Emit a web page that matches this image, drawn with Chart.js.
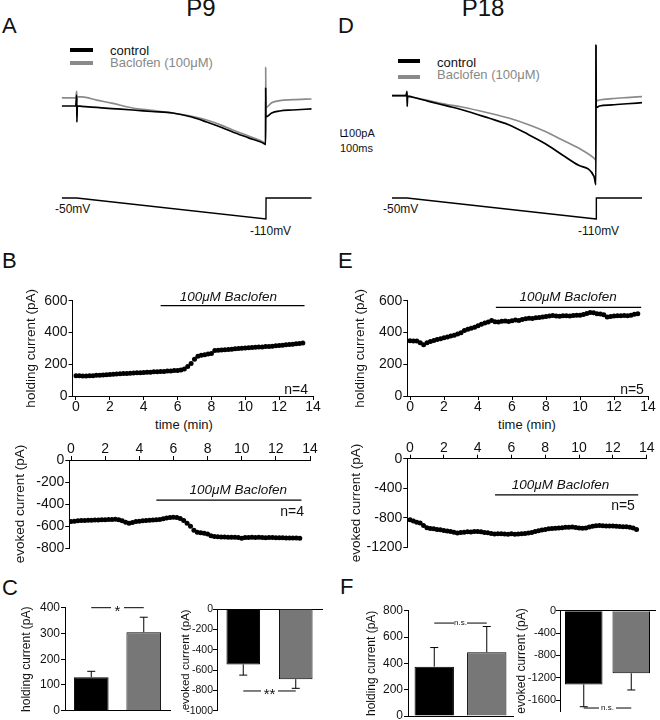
<!DOCTYPE html>
<html>
<head>
<meta charset="utf-8">
<title>Baclofen P9 / P18</title>
<script src="https://cdn.jsdelivr.net/npm/chart.js@4.4.1/dist/chart.umd.min.js"></script>
<style>
 body { margin: 0; width: 660px; height: 720px; position: relative; overflow: hidden; background: #fff; font-family: 'Liberation Sans', Arial, sans-serif; color: #111; }
 canvas { position: absolute; }
 .lbl { position: absolute; white-space: nowrap; line-height: 1; }
 .key { position: absolute; height: 4px; }
</style>
</head>
<body>
<div class="lbl" style="left:201px;top:-3.6px;font-size:24px;transform:translateX(-50%)">P9</div>
<div class="lbl" style="left:483px;top:-3.6px;font-size:24px;transform:translateX(-50%)">P18</div>
<div class="lbl" style="left:2px;top:14.7px;font-size:22px">A</div>
<div class="lbl" style="left:338px;top:14.7px;font-size:22px">D</div>
<div class="lbl" style="left:2px;top:249.7px;font-size:22px">B</div>
<div class="lbl" style="left:338px;top:249.7px;font-size:22px">E</div>
<div class="lbl" style="left:2px;top:577.4px;font-size:22px">C</div>
<div class="lbl" style="left:340px;top:576.4px;font-size:22px">F</div>

<div class="key" style="left:70px;top:48px;width:23px;background:#000"></div>
<div class="key" style="left:70px;top:61px;width:23px;background:#8a8a8a"></div>
<div class="lbl" style="left:110px;top:44px;font-size:13px">control</div>
<div class="lbl" style="left:110px;top:56px;font-size:13px;color:#888">Baclofen (100μM)</div>
<div class="key" style="left:398px;top:59px;width:22px;background:#000"></div>
<div class="key" style="left:398px;top:75px;width:22px;background:#8a8a8a"></div>
<div class="lbl" style="left:437px;top:56px;font-size:13px">control</div>
<div class="lbl" style="left:437px;top:68px;font-size:13px;color:#888">Baclofen (100μM)</div>

<div class="lbl" style="left:55px;top:202.8px;font-size:12px">-50mV</div>
<div class="lbl" style="left:250px;top:224.8px;font-size:12px">-110mV</div>
<div class="lbl" style="left:383px;top:202.8px;font-size:12px">-50mV</div>
<div class="lbl" style="left:578px;top:224.8px;font-size:12px">-110mV</div>
<div class="lbl" style="left:343px;top:127.5px;font-size:11px">100pA</div>
<div class="lbl" style="left:340px;top:142.5px;font-size:11px">100ms</div>

<div class="lbl" style="left:184px;top:418px;font-size:13px;transform:translateX(-50%)">time (min)</div>
<div class="lbl" style="left:527px;top:418px;font-size:13px;transform:translateX(-50%)">time (min)</div>

<canvas id="trA" width="330" height="240" style="left:0;top:0"></canvas>
<canvas id="trD" width="330" height="240" style="left:330px;top:0"></canvas>
<canvas id="hB" width="330" height="146" style="left:0;top:285px"></canvas>
<canvas id="hE" width="330" height="146" style="left:330px;top:285px"></canvas>
<canvas id="eB" width="330" height="136" style="left:0;top:432px"></canvas>
<canvas id="eE" width="330" height="136" style="left:330px;top:430px"></canvas>
<canvas id="bC1" width="180" height="130" style="left:0;top:596px"></canvas>
<canvas id="bC2" width="165" height="130" style="left:165px;top:596px"></canvas>
<canvas id="bF1" width="200" height="130" style="left:330px;top:596px"></canvas>
<canvas id="bF2" width="170" height="130" style="left:490px;top:596px"></canvas>

<script>
// ramp protocol (ms, mV)
const vTime = [0, 300, 4085, 4087, 5000];
const vCmd = [-50, -50, -110, -50, -50];

// current traces, pA relative to control baseline
const traceTimeP9 = [0, 280, 300, 304, 312, 400, 700, 1000, 1420, 1800, 2220, 2600, 2900, 3200, 3420, 3750, 4060, 4078, 4080, 4084, 4200, 4360, 4620, 5000];
const controlP9 = [0, 0, 150, -220, 0, -5, -20, -35, -55, -75, -96, -150, -219, -295, -356, -440, -520, -530, 250, -150, -95, -68, -55, -40];
const baclofenP9 = [110, 110, 200, 60, 125, 125, 80, 40, -27, -60, -96, -140, -192, -265, -329, -415, -507, -520, 534, -20, 45, 73, 86, 96];

const traceTimeP18 = [0, 280, 300, 304, 312, 400, 733, 1100, 1400, 1933, 2333, 2733, 3067, 3400, 3733, 4040, 4078, 4080, 4084, 4150, 4400, 4700, 5000];
const controlP18 = [0, 0, 59, -146, -5, -18, -78, -140, -192, -306, -397, -534, -658, -808, -954, -1105, -1220, 700, -160, -141, -125, -110, -96];
const baclofenP18 = [0, 0, 40, -60, -5, -18, -68, -120, -155, -237, -306, -397, -489, -603, -717, -854, -880, 680, -70, -59, -40, -25, -12];

// time courses (min)
const times = [0, 0.2, 0.4, 0.6, 0.8, 1, 1.2, 1.4, 1.6, 1.8, 2, 2.2, 2.4, 2.6, 2.8, 3, 3.2, 3.4, 3.6, 3.8, 4, 4.2, 4.4, 4.6, 4.8, 5, 5.2, 5.4, 5.6, 5.8, 6, 6.2, 6.4, 6.6, 6.8, 7, 7.2, 7.4, 7.6, 7.8, 8, 8.2, 8.4, 8.6, 8.8, 9, 9.2, 9.4, 9.6, 9.8, 10, 10.2, 10.4, 10.6, 10.8, 11, 11.2, 11.4, 11.6, 11.8, 12, 12.2, 12.4, 12.6, 12.8, 13, 13.2, 13.4];
const holdP9 = [128, 127, 126, 126, 127, 128, 130, 131, 133, 134, 135, 137, 138, 140, 141, 142, 144, 145, 146, 147, 148, 149, 150, 152, 153, 154, 155, 157, 158, 160, 161, 163, 170, 185, 205, 232, 250, 256, 260, 264, 268, 286, 288, 290, 291, 293, 295, 297, 299, 300, 302, 303, 305, 307, 308, 309, 311, 312, 314, 316, 318, 320, 322, 324, 326, 329, 331, 334];
const holdP18 = [348, 347, 346, 336, 322, 335, 343, 349, 355, 360, 366, 371, 377, 383, 390, 398, 412, 420, 426, 433, 442, 452, 459, 466, 476, 468, 466, 470, 472, 469, 474, 478, 476, 482, 486, 490, 488, 492, 494, 497, 500, 503, 507, 504, 502, 505, 506, 504, 507, 508, 509, 513, 520, 526, 524, 518, 516, 512, 498, 500, 504, 506, 505, 507, 506, 509, 514, 518];
const evokedP9 = [-560, -556, -552, -550, -549, -548, -547, -546, -545, -544, -543, -541, -540, -539, -543, -552, -566, -574, -568, -560, -556, -553, -550, -548, -545, -543, -540, -535, -528, -522, -520, -522, -532, -550, -575, -602, -638, -656, -662, -666, -672, -688, -695, -698, -700, -701, -702, -703, -703, -704, -712, -705, -704, -703, -704, -703, -705, -706, -704, -705, -706, -707, -706, -708, -709, -708, -710, -712];
const evokedP18 = [-828, -845, -862, -870, -905, -935, -945, -950, -958, -962, -972, -980, -985, -995, -1008, -1000, -995, -990, -992, -985, -986, -990, -998, -1004, -1012, -1020, -1018, -1015, -1020, -1022, -1018, -1024, -1020, -1015, -1012, -1005, -1000, -985, -975, -965, -958, -950, -945, -942, -938, -935, -930, -928, -926, -932, -938, -942, -940, -925, -915, -908, -905, -908, -912, -910, -912, -915, -918, -922, -920, -928, -940, -958];

const timeTicks = [0, 2, 4, 6, 8, 10, 12, 14];
const holdTicks = [0, 200, 400, 600];
const evokedTicksP9 = [0, -200, -400, -600, -800];
const evokedTicksP18 = [0, -400, -800, -1200];

// summary bars: control, baclofen (mean, SEM)
const groups = ['control', 'Baclofen'];
const holdMeanP9 = [130, 305];
const holdSemP9 = [23, 58];
const evokedMeanP9 = [-545, -690];
const evokedSemP9 = [105, 90];
const holdMeanP18 = [375, 485];
const holdSemP18 = [145, 195];
const evokedMeanP18 = [-1320, -1120];
const evokedSemP18 = [400, 300];
const barHoldTicksP9 = [0, 100, 200, 300, 400];
const barEvokedTicksP9 = [0, -200, -400, -600, -800, -1000];
const barHoldTicksP18 = [0, 200, 400, 600, 800];
const barEvokedTicksP18 = [0, -400, -800, -1200, -1600];

const FONT = "'Liberation Sans', Arial, sans-serif";
Chart.defaults.font.family = FONT;
Chart.defaults.color = '#111';
Chart.defaults.animation = false;
Chart.defaults.responsive = false;
Chart.defaults.plugins.legend.display = false;
Chart.defaults.plugins.tooltip.enabled = false;

// drug bars, n labels, error bars, significance lines, scale bar
Chart.register({
 id: 'notes',
 afterDraw(chart, args, o) {
  const ctx = chart.ctx, x = chart.scales.x, y = chart.scales.y;
  ctx.save();
  ctx.strokeStyle = '#000';
  ctx.fillStyle = '#111';
  ctx.lineWidth = 1;
  if (o.drug) {
   const d = o.drug, py = y.getPixelForValue(d.y);
   ctx.lineWidth = 1.3;
   ctx.beginPath();
   ctx.moveTo(x.getPixelForValue(d.from), py);
   ctx.lineTo(x.getPixelForValue(d.to), py);
   ctx.stroke();
   ctx.font = 'italic 13.5px ' + FONT;
   ctx.textAlign = 'center';
   ctx.textBaseline = 'middle';
   ctx.fillText(d.text, x.getPixelForValue(d.tx), y.getPixelForValue(d.ty));
  }
  if (o.n) {
   ctx.font = '14px ' + FONT;
   ctx.textAlign = 'center';
   ctx.textBaseline = 'middle';
   ctx.fillText(o.n.text, x.getPixelForValue(o.n.x), y.getPixelForValue(o.n.y));
  }
  if (o.sem) {
   const meta = chart.getDatasetMeta(0);
   const vals = chart.data.datasets[0].data;
   ctx.lineWidth = 1;
   meta.data.forEach((bar, i) => {
    const sign = vals[i] < 0 ? -1 : 1;
    const y0 = y.getPixelForValue(vals[i]);
    const y1 = y.getPixelForValue(vals[i] + sign * o.sem[i]);
    ctx.beginPath();
    ctx.moveTo(bar.x, y0);
    ctx.lineTo(bar.x, y1);
    ctx.moveTo(bar.x - 4, y1);
    ctx.lineTo(bar.x + 4, y1);
    ctx.stroke();
   });
  }
  if (o.sig) {
   const s = o.sig, py = y.getPixelForValue(s.y);
   const x0 = x.getPixelForValue(0), x1 = x.getPixelForValue(1), mid = (x0 + x1) / 2;
   ctx.beginPath();
   ctx.moveTo(x0, py);
   ctx.lineTo(mid - s.gap / 2, py);
   ctx.moveTo(mid + s.gap / 2, py);
   ctx.lineTo(x1, py);
   ctx.stroke();
   ctx.font = s.size + 'px ' + FONT;
   ctx.textAlign = 'center';
   ctx.textBaseline = 'middle';
   ctx.fillText(s.text, mid, py + s.dy);
  }
  if (o.bar) {
   const h = y.getPixelForValue(0) - y.getPixelForValue(100);
   const w = x.getPixelForValue(100) - x.getPixelForValue(0);
   ctx.beginPath();
   ctx.moveTo(o.bar.x, o.bar.y - h);
   ctx.lineTo(o.bar.x, o.bar.y);
   ctx.lineTo(o.bar.x + w, o.bar.y);
   ctx.stroke();
  }
  ctx.restore();
 }
});

function pts(xs, ys) {
 return xs.map((v, i) => ({x: v, y: ys[i]}));
}

function traceChart(id, t, ctl, bac, curRange, pad, notes) {
 new Chart(document.getElementById(id), {
  type: 'line',
  data: {datasets: [
   {data: pts(t, ctl), borderColor: '#000', borderWidth: 1.7, yAxisID: 'y', cubicInterpolationMode: 'monotone'},
   {data: pts(t, bac), borderColor: '#8a8a8a', borderWidth: 1.7, yAxisID: 'y', cubicInterpolationMode: 'monotone'},
   {data: pts(vTime, vCmd), borderColor: '#000', borderWidth: 1.4, yAxisID: 'v', tension: 0}
  ]},
  options: {
   layout: {padding: pad},
   elements: {point: {radius: 0}},
   scales: {
    x: {type: 'linear', display: false, min: 0, max: 5000},
    y: {display: false, min: curRange[0], max: curRange[1]},
    v: {display: false, min: -127.1, max: 401.4}
   },
   plugins: {notes: notes || {}}
  }
 });
}

function yAxis(o) {
 return {
  min: o.min, max: o.max,
  afterBuildTicks: s => { s.ticks = o.ticks.map(v => ({value: v})); },
  afterFit: s => { s.width = o.width; },
  border: {color: '#000', width: 1},
  grid: {drawOnChartArea: false, tickLength: 4, color: '#000'},
  ticks: {font: {size: o.fs}, padding: o.pad === undefined ? 1 : o.pad, color: '#111', callback: v => String(v)},
  title: {display: true, text: o.title, font: {size: o.tfs}, color: '#111', padding: {top: o.tp, bottom: 0}}
 };
}

function timeChart(id, vals, o) {
 new Chart(document.getElementById(id), {
  type: 'scatter',
  data: {datasets: [{data: pts(times, vals), backgroundColor: '#000', borderColor: '#000', pointRadius: 2.5, borderWidth: 0}]},
  options: {
   layout: {padding: o.pad},
   scales: {
    x: {
     type: 'linear', position: o.xPos, min: o.xMin, max: 14,
     afterBuildTicks: s => { s.ticks = timeTicks.map(v => ({value: v})); },
     afterFit: s => { s.height = o.xH; },
     border: {color: '#000', width: 1},
     grid: {drawOnChartArea: false, tickLength: 4, color: '#000'},
     ticks: {font: {size: 14}, padding: o.xPad, maxRotation: 0, autoSkip: false, color: '#111', callback: v => String(v)}
    },
    y: yAxis(o.y)
   },
   plugins: {notes: o.notes}
  }
 });
}

function barChart(id, means, sems, o) {
 new Chart(document.getElementById(id), {
  type: 'bar',
  data: {labels: groups, datasets: [{
   data: means, backgroundColor: ['#000', '#777'], borderColor: '#000', borderWidth: 1,
   barPercentage: o.bp, categoryPercentage: 1
  }]},
  options: {
   layout: {padding: o.pad},
   scales: {
    x: {
     position: o.xPos,
     afterFit: s => { s.height = 0; },
     border: {display: true, color: '#000', width: 1},
     grid: {display: false},
     ticks: {display: false}
    },
    y: yAxis(o.y)
   },
   plugins: {notes: {sem: sems, sig: o.sig}}
  }
 });
}

// A / D: ramp currents
traceChart('trA', traceTimeP9, controlP9, baclofenP9, [-1630.1, 904.1],
 {left: 61.7, right: 18.3, top: 40, bottom: 15});
traceChart('trD', traceTimeP18, controlP18, baclofenP18, [-1771, 763],
 {left: 62, right: 18, top: 40, bottom: 15}, {bar: {x: 11, y: 136.5}});

// B / E: holding current time course
timeChart('hB', holdP9, {
 pad: {left: 0, right: 17, top: 15.7, bottom: 0}, xPos: 'bottom', xMin: -0.2, xH: 35, xPad: -1,
 y: {min: 0, max: 600, ticks: holdTicks, width: 72.6, fs: 14, title: 'holding current (pA)', tfs: 13.5, tp: 23},
 notes: {drug: {from: 5, to: 13.5, y: 569, tx: 9.0, ty: 620, text: '100μM Baclofen'}, n: {text: 'n=4', x: 13.0, y: 37}}
});
timeChart('hE', holdP18, {
 pad: {left: 0, right: 12, top: 15.7, bottom: 0}, xPos: 'bottom', xMin: -0.16, xH: 35, xPad: -1,
 y: {min: 0, max: 600, ticks: holdTicks, width: 77.3, fs: 14, title: 'holding current (pA)', tfs: 13.5, tp: 22},
 notes: {drug: {from: 5.05, to: 13.6, y: 558, tx: 9.3, ty: 620, text: '100μM Baclofen'}, n: {text: 'n=5', x: 13.06, y: 37}}
});

// evoked current time course
timeChart('eB', evokedP9, {
 pad: {left: 0, right: 20, top: 0, bottom: 20}, xPos: 'top', xMin: -0.1, xH: 28, xPad: -2,
 y: {min: -800, max: 0, ticks: evokedTicksP9, width: 69.3, fs: 14, title: 'evoked current (pA)', tfs: 13.5, tp: 12},
 notes: {drug: {from: 5, to: 13.5, y: -364, tx: 9.8, ty: -273, text: '100μM Baclofen'}, n: {text: 'n=4', x: 12.95, y: -473}}
});
timeChart('eE', evokedP18, {
 pad: {left: 0, right: 13.3, top: 0.7, bottom: 18.7}, xPos: 'top', xMin: -0.16, xH: 28, xPad: -2,
 y: {min: -1200, max: 0, ticks: evokedTicksP18, width: 77.3, fs: 14, title: 'evoked current (pA)', tfs: 13.5, tp: 18.6},
 notes: {drug: {from: 5.03, to: 13.5, y: -491, tx: 8.9, ty: -356, text: '100μM Baclofen'}, n: {text: 'n=5', x: 12.6, y: -640}}
});

// C / F: summary bars
barChart('bC1', holdMeanP9, holdSemP9, {
 pad: {left: 0, right: 10, top: 11.7, bottom: 15.3}, xPos: 'bottom', bp: 0.66,
 y: {min: 0, max: 400, ticks: barHoldTicksP9, width: 65, fs: 12, title: 'holding current (pA)', tfs: 12, tp: 19.8},
 sig: {y: 400, text: '*', size: 15, gap: 13, dy: 4}
});
barChart('bC2', evokedMeanP9, evokedSemP9, {
 pad: {left: 0, right: 8, top: 13, bottom: 15.3}, xPos: 'top', bp: 0.64,
 y: {min: -1000, max: 0, ticks: barEvokedTicksP9, width: 52, fs: 10.5, pad: 0, title: 'evoked current (pA)', tfs: 11.5, tp: 14.1},
 sig: {y: -806, text: '**', size: 15, gap: 17, dy: 4}
});
barChart('bF1', holdMeanP18, holdSemP18, {
 pad: {left: 0, right: 17, top: 14.7, bottom: 10}, xPos: 'bottom', bp: 0.75,
 y: {min: 0, max: 800, ticks: barHoldTicksP18, width: 78, fs: 12, title: 'holding current (pA)', tfs: 12, tp: 34.3},
 sig: {y: 706, text: 'n.s.', size: 8, gap: 13, dy: 0}
});
barChart('bF2', evokedMeanP18, evokedSemP18, {
 pad: {left: 0, right: 5, top: 14.7, bottom: 14.8}, xPos: 'top', bp: 0.79,
 y: {min: -1800, max: 0, ticks: barEvokedTicksP18, width: 70, fs: 11, pad: 0, title: 'evoked current (pA)', tfs: 12, tp: 24},
 sig: {y: -1743, text: 'n.s.', size: 8, gap: 17, dy: 0}
});
</script>
</body>
</html>
